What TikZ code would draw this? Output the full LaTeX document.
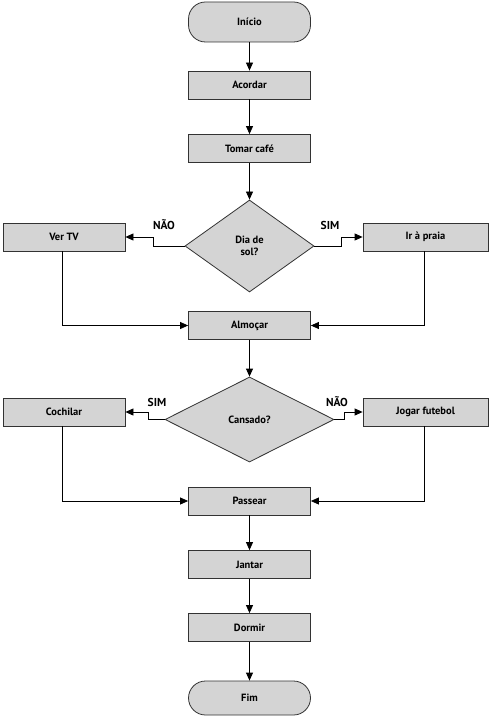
\documentclass[tikz,border=0pt]{standalone}
\usepackage{fontspec}
\setmainfont{PT Sans}
\usetikzlibrary{shapes.geometric,arrows.meta}
\begin{document}
\begin{tikzpicture}[x=1pt,y=-1pt,
  box/.style={draw=black!80,fill=black!17,line width=0.8pt,minimum width=122pt,minimum height=28pt,inner sep=0pt,font=\bfseries\fontsize{10.5}{12}\selectfont},
  term/.style={box,rounded corners=17pt,minimum height=38pt},
  decision/.style={draw=black!80,fill=black!17,line width=0.8pt,diamond,inner sep=0pt,font=\bfseries\fontsize{10.5}{12}\selectfont,align=center},
  lbl/.style={font=\bfseries\fontsize{11.5}{13}\selectfont,inner sep=0pt},
  conn/.style={line width=0.8pt,-{Triangle[length=8pt,width=7pt]}}]
\useasboundingbox (0,0) rectangle (490,719);
\node[term,minimum height=40pt] (inicio) at (249.5,22) {Início};
\node[box] (acordar) at (249.5,85) {Acordar};
\node[box] (cafe) at (249.5,148.5) {Tomar café};
\node[decision,minimum width=129pt,minimum height=92pt] (sol) at (249.5,246) {Dia de\\sol?};
\node[box] (tv) at (64,237) {Ver TV};
\node[box,minimum width=125pt] (praia) at (425.5,237) {Ir à praia};
\node[box] (almocar) at (249.5,325.5) {Almoçar};
\node[decision,minimum width=169pt,minimum height=85pt] (cansado) at (249.5,419.5) {Cansado?};
\node[box] (cochilar) at (64,412) {Cochilar};
\node[box,minimum width=125pt] (futebol) at (425.5,412) {Jogar futebol};
\node[box] (passear) at (249.5,501) {Passear};
\node[box] (jantar) at (249.5,564.5) {Jantar};
\node[box] (dormir) at (249.5,627.5) {Dormir};
\node[term,minimum height=34pt] (fim) at (249.5,698) {Fim};

\draw[conn] (inicio) -- (acordar);
\draw[conn] (acordar) -- (cafe);
\draw[conn] (cafe) -- (sol);
\draw[conn] (sol.west) -- ++(-31,0) |- (tv.east);
\draw[conn] (sol.east) -- ++(27,0) |- (praia.west);
\node[lbl] (nao1) at (164,225) {NÃO};
\node[lbl] (sim1) at (330,225) {SIM};
\draw[conn] (tv.south -| 62,0) |- (almocar.west);
\draw[conn] (praia.south -| 424,0) |- (almocar.east);
\draw[conn] (almocar) -- (cansado);
\draw[conn] (cansado.west) -- ++(-16,0) |- (cochilar.east);
\draw[conn] (cansado.east) -- ++(10,0) |- (futebol.west);
\node[lbl] (sim2) at (157,402) {SIM};
\node[lbl] (nao2) at (337,402) {NÃO};
\draw[conn] (cochilar.south -| 62,0) |- (passear.west);
\draw[conn] (futebol.south -| 424,0) |- (passear.east);
\draw[conn] (passear) -- (jantar);
\draw[conn] (jantar) -- (dormir);
\draw[conn] (dormir) -- (fim);
\end{tikzpicture}
\end{document}
